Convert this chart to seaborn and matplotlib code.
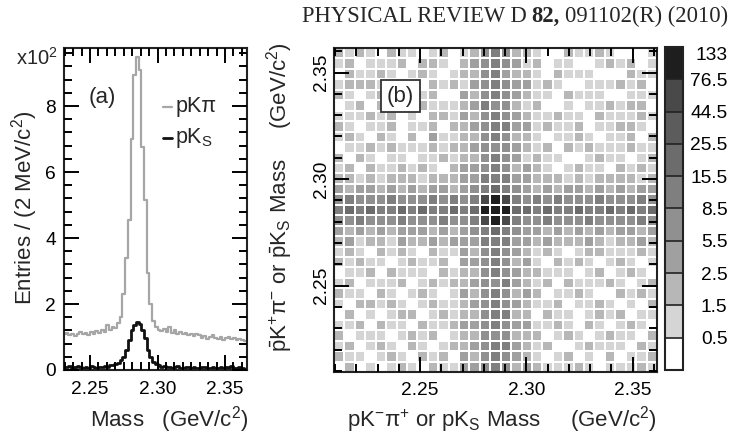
import numpy as np
import pandas as pd
import matplotlib
matplotlib.use("Agg")
import matplotlib.pyplot as plt
import seaborn as sns
from matplotlib.colors import ListedColormap, BoundaryNorm
from matplotlib.collections import QuadMesh
from matplotlib.ticker import MultipleLocator
import matplotlib.cm as cm

# ---------------- data: panel (a) ----------------
mass_bin_lo = 2.230          # GeV/c^2, first bin edge
mass_bin_w = 0.002           # 2 MeV bins
pkpi_x100 = [1.10, 1.12, 1.05, 1.08, 1.02, 1.10, 1.15, 1.08, 1.12, 1.05,
             1.15, 1.10, 1.18, 1.12, 1.20, 1.15, 1.35, 1.22, 1.30, 1.28,
             1.42, 1.62, 2.30, 3.40, 4.55, 7.00, 8.95, 9.48, 9.10, 6.75,
             5.15, 2.95, 2.00, 1.50, 1.30, 1.22, 1.18, 1.25, 1.15, 1.30,
             1.12, 1.20, 1.08, 1.15, 1.10, 1.12, 1.05, 1.08, 1.02, 1.10,
             1.05, 0.98, 1.02, 0.95, 1.00, 1.05, 0.98, 0.95, 1.00, 0.92,
             0.98, 1.00, 0.95, 0.98, 0.92, 0.95, 0.90, 0.88, 0.85]
pks_x100 = [0.10, 0.08, 0.12, 0.06, 0.10, 0.12, 0.08, 0.05, 0.10, 0.07,
            0.12, 0.09, 0.06, 0.10, 0.08, 0.12, 0.10, 0.15, 0.14, 0.18,
            0.22, 0.30, 0.40, 0.62, 0.92, 1.20, 1.35, 1.45, 1.40, 1.22,
            0.98, 0.62, 0.38, 0.25, 0.18, 0.15, 0.10, 0.12, 0.08, 0.10,
            0.06, 0.09, 0.12, 0.07, 0.05, 0.08, 0.10, 0.06, 0.09, 0.05,
            0.07, 0.10, 0.08, 0.04, 0.06, 0.09, 0.05, 0.07, 0.10, 0.06,
            0.08, 0.05, 0.12, 0.07, 0.05, 0.08, 0.06, 0.04, 0.06]
xticks_a = [2.25, 2.30, 2.35]
yticks_a = [0, 2, 4, 6, 8]

# ---------------- data: panel (b) ----------------
mass2d_lo = 2.2095
mass2d_hi = 2.3615
# level code per cell (rows from top = highest mass), 0..9 -> colour box
levels_rows = [
    "2121021101201" + "24542" + "2100211210001",
    "1201112022102" + "34543" + "1201100121201",
    "0211210121012" + "24532" + "2102111000211",
    "1222112102121" + "34543" + "3121001112120",
    "2101221112003" + "24543" + "2110211100111",
    "0120211021112" + "35442" + "1200101121220",
    "1112120102213" + "24543" + "2112110211121",
    "2101120112022" + "34553" + "3121120112210",
    "1210210203112" + "24542" + "2101121011202",
    "0112121112122" + "34443" + "2120212111211",
    "2021011011212" + "24543" + "1211001211012",
    "1202112121023" + "34542" + "3210121102121",
    "2212122212223" + "35553" + "3222121222212",
    "3233232323323" + "45654" + "3232332323233",
    "4544454445454" + "58985" + "4545444544454",
    "5656556565565" + "69996" + "6565565565656",
    "4454445444544" + "58985" + "4454445444454",
    "3232323332323" + "45654" + "3323232323323",
    "2312213223233" + "35553" + "3232223212232",
    "1210212102113" + "24543" + "2121012211121",
    "2121101211203" + "34542" + "3102121012101",
    "0112021110212" + "24543" + "2211101201210",
    "1201112012122" + "34453" + "2120211121012",
    "2110210121013" + "24542" + "3201121002121",
    "1022121012112" + "34543" + "2112011210102",
    "0201012201212" + "24552" + "2021101212011",
    "1120211021123" + "34543" + "3112102101210",
    "2011101212012" + "24442" + "2201210121102",
    "1201210210122" + "34553" + "2120012111021",
    "2110121021203" + "24543" + "2101201020112",
    "0201012102113" + "34542" + "3211121011121",
]
level_counts = [0, 1, 2, 4, 7, 12, 20, 35, 60, 100]
cbar_bounds = [0, 0.5, 1.5, 2.5, 5.5, 8.5, 15.5, 25.5, 44.5, 76.5, 133]
cbar_labels = ["0.5", "1.5", "2.5", "5.5", "8.5", "15.5", "25.5", "44.5", "76.5", "133"]
gray_levels = ["#ffffff", "#d5d5d5", "#b7b7b7", "#a0a0a0", "#909090",
               "#7f7f7f", "#6c6c6c", "#5c5c5c", "#494949", "#1e1e1e"]
ticks_b = [2.25, 2.30, 2.35]

# ---------------- style ----------------
sns.set_style("white")
plt.rcParams.update({
    "font.family": ["Liberation Sans", "DejaVu Sans"],
    "mathtext.fontset": "custom",
    "mathtext.rm": "Liberation Sans",
    "mathtext.it": "Liberation Sans:italic",
    "mathtext.bf": "Liberation Sans:bold",
    "mathtext.sf": "Liberation Sans",
    "axes.axisbelow": False,
    "xtick.direction": "in", "ytick.direction": "in",
    "xtick.top": True, "xtick.bottom": True,
    "ytick.left": True, "ytick.right": True,
    "xtick.major.size": 11, "ytick.major.size": 11,
    "xtick.minor.size": 5.5, "ytick.minor.size": 5.5,
    "xtick.major.width": 1.4, "ytick.major.width": 1.4,
    "xtick.minor.width": 1.4, "ytick.minor.width": 1.4,
    "xtick.color": "black", "ytick.color": "black",
})
FS = 13.8     # tick labels
FT = 16       # titles / labels

W, H = 735, 434
fig = plt.figure(figsize=(W / 100, H / 100), dpi=100)


def fbox(l, t, r, b):
    return [l / W, 1 - b / H, (r - l) / W, (b - t) / H]


def style_ticks(ax):
    ax.set_axisbelow(False)
    ax.tick_params(which="both", direction="in", top=True, right=True,
                   bottom=True, left=True, width=1.4, color="black",
                   labelsize=FS)
    ax.tick_params(which="major", length=11)
    ax.tick_params(which="minor", length=5.5)
    for s in ax.spines.values():
        s.set_visible(True)
        s.set_linewidth(1.5)
        s.set_color("#222222")


# ================= panel (a) =================
axa = fig.add_axes(fbox(64, 48, 247, 370))
edges = [mass_bin_lo + mass_bin_w * i for i in range(len(pkpi_x100) + 1)]
centers = [0.5 * (edges[i] + edges[i + 1]) for i in range(len(pkpi_x100))]
df_pkpi = pd.DataFrame({"mass": centers, "entries": pkpi_x100})
df_pks = pd.DataFrame({"mass": centers, "entries": pks_x100})
sns.histplot(data=df_pkpi, x="mass", weights="entries",
             bins=edges, element="step", fill=False, color="#a6a6a6",
             linewidth=1.6, ax=axa)
sns.histplot(data=df_pks, x="mass", weights="entries",
             bins=edges, element="step", fill=False, color="#111111",
             linewidth=2.0, ax=axa)
axa.set_xlim(2.2307, 2.3663)
axa.set_ylim(0, 9.76)
axa.set_xticks(xticks_a)
axa.set_xticklabels([f"{v:.2f}" for v in xticks_a])
axa.set_yticks(yticks_a)
axa.set_yticklabels([str(v) for v in yticks_a])
axa.xaxis.set_minor_locator(MultipleLocator(0.00625))
axa.yaxis.set_minor_locator(MultipleLocator(0.4))
axa.set_xlabel("")
axa.set_ylabel("")
style_ticks(axa)
axa.tick_params(axis="x", pad=8)
axa.tick_params(axis="y", pad=6)

# legend (drawn by hand, ROOT style)
axa.plot([0.541, 0.590], [0.817, 0.817], transform=axa.transAxes,
         color="#a6a6a6", lw=1.6)
axa.plot([0.541, 0.590], [0.720, 0.720], transform=axa.transAxes,
         color="#111111", lw=2.0)
axa.text(0.607, 0.817, "pKπ", transform=axa.transAxes, ha="left",
         va="center", fontsize=15.5)
axa.text(0.607, 0.722, r"pK$_\mathrm{S}$", transform=axa.transAxes,
         ha="left", va="center", fontsize=15.5)
axa.text(0.208, 0.845, "(a)", transform=axa.transAxes, ha="center",
         va="center", fontsize=FT)

fig.text(58 / W, 1 - 58 / H, r"x10$^\mathrm{2}$", ha="right", va="center",
         fontsize=14.5)
fig.text(248 / W, 1 - 420 / H, r"Mass   (GeV/c$^\mathrm{2}$)", ha="right",
         va="center", fontsize=FT)
fig.text(25 / W, 1 - 208 / H, r"Entries / (2 MeV/c$^\mathrm{2}$)",
         rotation=90, ha="center", va="center", fontsize=FT)

# ================= panel (b) =================
axb = fig.add_axes(fbox(334, 48, 657, 372))
counts = np.array([[level_counts[int(c)] for c in row] for row in levels_rows],
                  dtype=float)
nrow, ncol = counts.shape
bw = (mass2d_hi - mass2d_lo) / ncol
edges2d = [mass2d_lo + bw * i for i in range(ncol + 1)]
ycent = mass2d_hi - bw * (np.arange(nrow) + 0.5)
xcent = mass2d_lo + bw * (np.arange(ncol) + 0.5)
XX, YY = np.meshgrid(xcent, ycent)
df_b = pd.DataFrame({"m_x": XX.ravel(), "m_y": YY.ravel(),
                     "n": counts.ravel()})

cmap = ListedColormap(gray_levels)
norm = BoundaryNorm(cbar_bounds, cmap.N)
sns.histplot(data=df_b, x="m_x", y="m_y", weights="n",
             bins=[edges2d, edges2d], cbar=False,
             edgecolors="white", linewidth=0.3, ax=axb)
for coll in axb.collections:
    if isinstance(coll, QuadMesh):
        coll.set_cmap(cmap)
        coll.set_norm(norm)
axb.set_xlim(mass2d_lo, mass2d_hi)
axb.set_ylim(mass2d_lo, mass2d_hi)
axb.set_xticks(ticks_b)
axb.set_xticklabels([f"{m:.2f}" for m in ticks_b])
axb.set_yticks(ticks_b)
axb.set_yticklabels([f"{m:.2f}" for m in ticks_b], rotation=90, va="center")
axb.xaxis.set_minor_locator(MultipleLocator(0.01))
axb.yaxis.set_minor_locator(MultipleLocator(0.01))
axb.set_xlabel("")
axb.set_ylabel("")
style_ticks(axb)
axb.tick_params(axis="x", pad=7)
axb.tick_params(axis="y", pad=3)

axb.text(2.2408, 2.3388, "(b)", ha="center", va="center",
         fontsize=FT, zorder=7,
         bbox=dict(boxstyle="square,pad=0.25", fc="white", ec="#333333", lw=1.3))

fig.text(657 / W, 1 - 420 / H,
         r"pK$^{-}\mathrm{\pi}^{+}$ or pK$_\mathrm{S}$ Mass     (GeV/c$^\mathrm{2}$)",
         ha="right", va="center", fontsize=FT)
fig.text(280 / W, 1 - 42 / H,
         r"$\mathrm{\bar{p}K^{+}\pi^{-}}$ or $\mathrm{\bar{p}K_{S}}$ Mass     (GeV/c$^\mathrm{2}$)",
         rotation=90, ha="center", va="top", fontsize=FT)

# colour bar
cax = fig.add_axes(fbox(665, 47, 683, 370))
sm = cm.ScalarMappable(norm=norm, cmap=cmap)
cb = fig.colorbar(sm, cax=cax, boundaries=cbar_bounds, spacing="uniform",
                  drawedges=True, ticks=cbar_bounds[1:])
cb.outline.set_linewidth(1.5)
cb.outline.set_edgecolor("#222222")
cb.dividers.set_linewidth(1.2)
cb.dividers.set_color("#222222")
cb.set_ticklabels(cbar_labels)
cax.tick_params(which="both", length=0, pad=32, labelsize=FS,
                left=False, right=True, top=False, bottom=False)
cax.minorticks_off()
for i, lbl in enumerate(cax.get_yticklabels()):
    lbl.set_horizontalalignment("right")
    if i == len(cbar_labels) - 1:
        lbl.set_verticalalignment("top")

# header (journal line)
fig.canvas.draw()
rend = fig.canvas.get_renderer()
yh = 1 - 16 / H
HF = 16.3
t3 = fig.text(728 / W, yh, "091102(R) (2010)", ha="right", va="center",
              family="Liberation Serif", fontsize=HF)
bb = t3.get_window_extent(rend)
t2 = fig.text((bb.x0 - 5) / W, yh, "82,", ha="right", va="center",
              family="Liberation Serif", fontsize=HF, fontweight="bold")
bb = t2.get_window_extent(rend)
fig.text((bb.x0 - 5) / W, yh, "PHYSICAL REVIEW D", ha="right", va="center",
         family="Liberation Serif", fontsize=HF)

fig.savefig("out.png", dpi=100)
